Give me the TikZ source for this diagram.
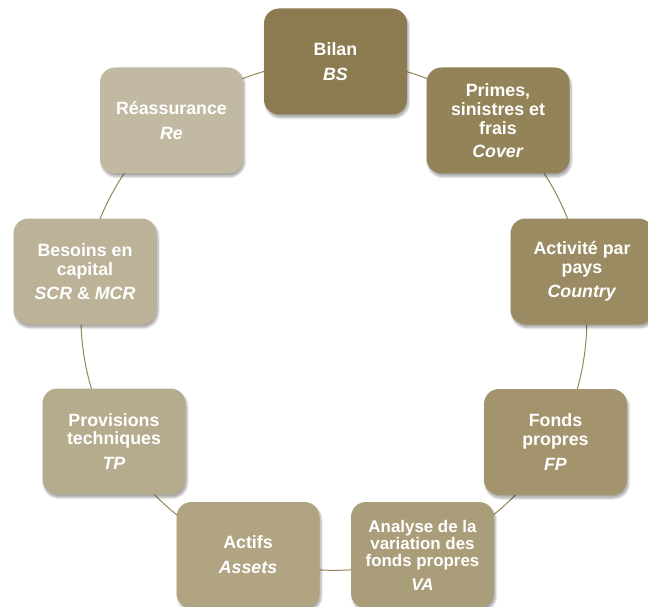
\documentclass[tikz,border=0pt]{standalone}
\usepackage{fontspec}
\setmainfont{Liberation Sans}
\usetikzlibrary{shadows.blur,backgrounds}
\definecolor{c1}{RGB}{140,123,80}
\definecolor{c2}{RGB}{147,131,89}
\definecolor{c3}{RGB}{155,139,98}
\definecolor{c4}{RGB}{163,148,109}
\definecolor{c5}{RGB}{170,157,121}
\definecolor{c6}{RGB}{176,164,130}
\definecolor{c7}{RGB}{181,171,141}
\definecolor{c8}{RGB}{187,178,152}
\definecolor{c9}{RGB}{194,185,163}
\definecolor{linec}{RGB}{150,134,92}
\tikzset{
  box/.style={rectangle, rounded corners=15pt, minimum width=143pt, minimum height=106pt,
    inner sep=0pt, align=center, text=white,
    font=\fontsize{17.8}{18.8}\selectfont\bfseries,
    blur shadow={shadow xshift=1.5pt, shadow yshift=-3pt, shadow blur steps=8, shadow opacity=35}},
  smallbox/.style={box, font=\fontsize{16.9}{17.4}\selectfont\bfseries},
  link/.style={draw=linec, line width=1pt, bend left=20, looseness=0.88}
}
\begin{document}
\begin{tikzpicture}[x=1pt,y=1pt]
\useasboundingbox (0,0) rectangle (648,-607);
\node[box, fill=c1] (n1) at (335.5,-61.5) {Bilan\\[6pt]\textit{BS}};
\node[box, fill=c2] (n2) at (498,-120.5) {Primes,\\sinistres et\\frais\\[4.5pt]\textit{Cover}};
\node[box, fill=c3] (n3) at (582,-271.5) {Activité par\\pays\\[5pt]\textit{Country}};
\node[box, fill=c4] (n4) at (555.5,-442) {Fonds\\propres\\[6pt]\textit{FP}};
\node[smallbox, fill=c5] (n5) at (422.5,-555) {Analyse de la\\variation des\\fonds propres\\[6pt]\textit{VA}};
\node[box, fill=c6] (n6) at (248,-555) {Actifs\\[6pt]\textit{Assets}};
\node[box, fill=c7] (n7) at (114,-441.5) {Provisions\\techniques\\[6pt]\textit{TP}};
\node[box, fill=c8] (n8) at (85,-271.5) {Besoins en\\capital\\[5pt]\textit{SCR} \& \textit{MCR}};
\node[box, fill=c9] (n9) at (171.5,-120.5) {Réassurance\\[6pt]\textit{Re}};
\begin{scope}[on background layer]
\draw[link] (n1.center) to (n2.center);
\draw[link] (n2.center) to (n3.center);
\draw[link] (n3.center) to (n4.center);
\draw[link] (n4.center) to (n5.center);
\draw[link] (n5.center) to (n6.center);
\draw[link] (n6.center) to (n7.center);
\draw[link] (n7.center) to (n8.center);
\draw[link] (n8.center) to (n9.center);
\draw[link] (n9.center) to (n1.center);
\end{scope}
\end{tikzpicture}
\end{document}
